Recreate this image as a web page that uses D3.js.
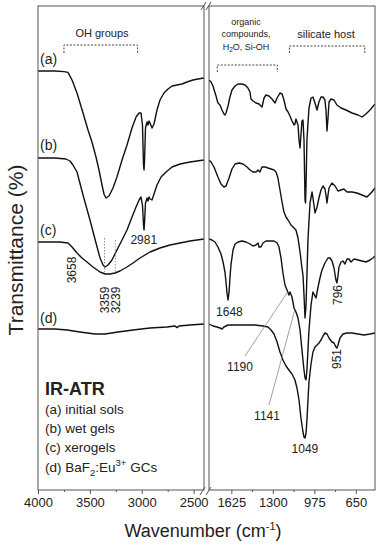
<!DOCTYPE html>
<html><head><meta charset="utf-8">
<script src="https://cdn.jsdelivr.net/npm/d3@7"></script>
<style>body{margin:0;background:#fff}svg{display:block}text{font-family:"Liberation Sans",Arial,sans-serif;fill:#222}</style>
</head><body>
<svg id="c" width="380" height="550"></svg>
<script>
// ---- data: [wavenumber (cm-1), transmittance (offset, a.u.)]
const seriesNames = ["(a)","(b)","(c)","(d)"];
const legendItems = ["(a) initial sols","(b) wet gels","(c) xerogels"];
const leftTicks = [4000,3500,3000,2500];
const leftMinor = [3750,3250,2750];
const rightTicks = [1625,1300,975,650];
const rightMinor = [1462.5,1137.5,812.5];

const aLeft = [[4000,104.75],[3836,104.75],[3749,104.6],[3711,104.4],[3672,102.5],[3624,99.25],[3566,94.25],[3518,90],[3480,87],[3441,83.25],[3412,80],[3383,76.25],[3364,74],[3345,73],[3316,73.5],[3277,75.5],[3239,78.25],[3190,82.5],[3142,86.25],[3094,90.5],[3055,93.25],[3026,94.25],[3007,94.25],[2993,91.25],[2983,81.25],[2978,80],[2973,82.5],[2964,90.5],[2949,92],[2940,91.25],[2930,92.25],[2920,91.75],[2901,90.5],[2882,91.5],[2853,95],[2824,97.5],[2786,99.25],[2747,100.25],[2708,101],[2660,101.25],[2612,101.5],[2564,102],[2506,102.5],[2458,102.75],[2400,103]];
const bLeft = [[4000,83],[3836,83],[3730,82.75],[3692,82.25],[3663,81.25],[3624,79.5],[3566,73.75],[3499,67.5],[3441,61.75],[3402,58],[3373,56.25],[3354,55.75],[3325,56.25],[3287,57.5],[3239,60],[3190,62.5],[3142,65],[3094,68.25],[3055,70.75],[3026,72.5],[3007,73.25],[2993,71.25],[2983,66.25],[2978,65],[2973,67],[2964,71.75],[2949,73],[2940,72.25],[2930,73.25],[2920,72.75],[2901,72.5],[2882,74],[2853,76.25],[2814,78.25],[2766,79.5],[2708,80.75],[2631,81.5],[2535,82],[2400,82.5]];
const cLeft = [[4000,62],[3788,62],[3711,61.75],[3672,60.75],[3624,59.25],[3576,58],[3528,57],[3470,55.75],[3402,54.5],[3354,54],[3306,54],[3258,54.25],[3210,54.75],[3142,55.75],[3084,56.75],[3017,58],[2920,59.5],[2824,60.5],[2728,61.25],[2631,61.75],[2535,62.25],[2400,62.75]];
const dLeft = [[4000,40.25],[3836,40.25],[3720,40],[3595,39.5],[3451,39],[3354,39],[3229,39.5],[3084,40],[2920,40.5],[2757,40.75],[2680,41],[2660,40.6],[2641,41],[2535,41.25],[2400,41.5]];

const aRight = [[1800,102.5],[1784,102],[1769,101],[1745,98.5],[1730,96.75],[1714,96.25],[1698,95],[1683,94],[1675,93.75],[1667,94.25],[1651,96],[1636,98.25],[1620,100],[1596,101],[1573,101.5],[1542,101.5],[1518,101.25],[1495,100.5],[1479,99.5],[1471,97.75],[1455,97.25],[1432,96.75],[1408,96.5],[1393,96],[1385,95.75],[1369,98],[1354,98.75],[1330,98.5],[1307,97.75],[1283,96.75],[1267,98],[1244,99.25],[1228,99],[1213,97.5],[1197,95.25],[1181,94.5],[1166,93.5],[1150,92.25],[1134,91.25],[1127,91.5],[1119,92.75],[1103,91.25],[1095,87.5],[1087,85.5],[1080,88.75],[1072,92.25],[1064,92.5],[1056,87.5],[1048,72.5],[1044,71.75],[1040,76.25],[1033,87.5],[1017,95.5],[1001,98],[986,98.25],[970,96.75],[954,95],[939,97],[923,98.25],[907,98.25],[892,97.5],[884,95],[876,89.75],[868,93],[860,97],[845,97.75],[821,97.5],[798,96.25],[766,95.5],[727,95],[680,94.25],[633,93.75],[602,93.25],[571,94],[539,95],[500,96.5]];
const bRight = [[1800,82.5],[1784,82],[1761,80.75],[1730,78.25],[1706,76.5],[1683,75.75],[1667,76],[1643,78],[1620,80.25],[1596,81.5],[1565,81.75],[1534,81.5],[1502,80.75],[1479,80],[1455,79.5],[1432,79.5],[1416,80],[1401,79.5],[1385,80.75],[1361,80.75],[1338,80.5],[1314,80.25],[1291,80],[1275,79.5],[1260,78],[1244,75],[1228,72],[1213,69.5],[1197,68.25],[1181,67.5],[1158,66.25],[1134,65.5],[1119,65],[1103,63],[1087,59.5],[1072,55.5],[1064,53.75],[1056,48.75],[1048,43],[1040,46.25],[1033,53.75],[1025,62.5],[1009,71.75],[993,74.5],[978,71.25],[970,69.25],[954,70.75],[939,73],[923,75],[907,76],[892,75.25],[884,73.75],[876,71.75],[868,73.75],[860,75.5],[837,76.75],[813,76],[790,74.75],[766,75],[743,75.25],[719,74.5],[680,74.5],[641,74.25],[602,73.75],[563,73.25],[531,74.25],[500,75.5]];
const cRight = [[1800,62.75],[1777,62.5],[1753,62],[1730,60.75],[1706,59],[1690,57],[1675,54.5],[1667,52],[1659,49.25],[1651,47.5],[1643,49.5],[1636,53],[1628,56.25],[1612,60],[1596,61.5],[1573,62],[1542,62.25],[1510,62],[1479,61.5],[1455,61],[1432,61.25],[1416,61.75],[1408,60.75],[1393,60.75],[1377,61.75],[1354,62.25],[1322,62.25],[1291,62.25],[1267,61.75],[1252,60.75],[1236,58],[1221,54.25],[1205,51.25],[1189,50],[1174,48.75],[1166,49.5],[1150,48.25],[1134,45.5],[1119,44.5],[1103,43],[1087,40],[1072,35],[1056,30],[1048,28],[1040,27.5],[1033,30],[1025,35],[1017,40],[1001,46.25],[986,49.5],[970,48.5],[962,48],[946,50.75],[931,53],[915,55],[892,56.75],[868,58],[852,58],[837,57.25],[821,55.5],[806,52.5],[798,51.75],[790,53.5],[782,55.75],[766,57],[751,57.25],[735,56.5],[719,57.75],[704,57.75],[688,57],[664,57.75],[633,57.5],[602,57.25],[571,57],[539,57.5],[516,58],[500,58.5]];
const dRight = [[1800,41.5],[1769,41],[1737,40.75],[1714,40.5],[1698,40.25],[1683,40.75],[1651,41.25],[1596,41.25],[1518,41.25],[1440,41.25],[1377,41],[1338,40.75],[1314,40],[1291,39],[1267,37],[1244,34.5],[1221,32.5],[1197,31],[1174,30],[1150,29],[1127,27.5],[1111,25.5],[1095,22.5],[1080,18],[1064,14.5],[1056,13.25],[1048,13],[1040,14.25],[1033,17.5],[1025,22.5],[1017,27],[1001,31.5],[986,34.5],[970,35.75],[954,36.25],[939,36.75],[923,37.5],[907,38.5],[892,39.25],[876,39],[860,38],[837,37],[821,36.75],[806,35.75],[798,35.5],[790,36.25],[774,38],[751,39],[719,39.25],[680,39.25],[633,39],[586,38.75],[539,39],[500,39.25]];

// ---- layout
const svg = d3.select("#c");
const plotTop = 6, plotBottom = 490;
const xL = d3.scaleLinear().domain([4000,2400]).range([38,204]);
const xR = d3.scaleLinear().domain([1800,500]).range([209,375]);
const y = d3.scaleLinear().domain([0,121]).range([plotBottom,plotTop]);

const defs = svg.append("defs");
defs.append("clipPath").attr("id","clipL").append("rect").attr("x",38).attr("y",plotTop).attr("width",166).attr("height",plotBottom-plotTop);
defs.append("clipPath").attr("id","clipR").append("rect").attr("x",209).attr("y",plotTop).attr("width",166).attr("height",plotBottom-plotTop);

function drawCurves(data, x, clip){
  const line = d3.line().x(d=>x(d[0])).y(d=>y(d[1])).curve(d3.curveLinear);
  svg.append("g").attr("clip-path","url(#"+clip+")")
    .selectAll("path").data(data).join("path")
    .attr("d", line).attr("fill","none").attr("stroke","#111").attr("stroke-width",1.4).attr("stroke-linejoin","round");
}
drawCurves([aLeft,bLeft,cLeft,dLeft], xL, "clipL");
drawCurves([aRight,bRight,cRight,dRight], xR, "clipR");

// frames
[[38,204],[209,375]].forEach(([a,b])=>{
  svg.append("rect").attr("x",a).attr("y",plotTop).attr("width",b-a).attr("height",plotBottom-plotTop)
    .attr("fill","none").attr("stroke","#555").attr("stroke-width",1);
});
// break marks
const brk = svg.append("g").attr("stroke","#555").attr("stroke-width",1);
[[200,495,205,487],[206,495,211,487],[201,10,206,2],[206,10,211,2]].forEach(s=>{
  brk.append("line").attr("x1",s[0]).attr("y1",s[1]).attr("x2",s[2]).attr("y2",s[3]);
});

// axes
function axis(x, ticks, minor){
  const g = svg.append("g").attr("transform","translate(0,"+plotBottom+")");
  g.call(d3.axisBottom(x).tickValues(ticks).tickSize(4).tickPadding(4).tickFormat(d3.format("d")));
  g.select(".domain").remove();
  g.selectAll("line").attr("stroke","#555");
  g.selectAll("text").attr("font-size",13).attr("fill","#222").attr("font-family",'"Liberation Sans",Arial,sans-serif');
  const m = svg.append("g").attr("transform","translate(0,"+plotBottom+")");
  m.call(d3.axisBottom(x).tickValues(minor).tickSize(2).tickFormat(""));
  m.select(".domain").remove();
  m.selectAll("line").attr("stroke","#555");
}
axis(xL, leftTicks, leftMinor);
axis(xR, rightTicks, rightMinor);

// axis titles
const xt = svg.append("text").attr("x",203).attr("y",537).attr("text-anchor","middle").attr("font-size",18);
xt.append("tspan").text("Wavenumber (cm");
xt.append("tspan").attr("font-size",11).attr("dy",-7).text("-1");
xt.append("tspan").attr("dy",7).text(")");
svg.append("text").attr("transform","translate(15,250) rotate(-90)").attr("text-anchor","middle")
  .attr("dominant-baseline","central").attr("font-size",21).text("Transmittance (%)");

// series labels
const labelY = [63.5,150,235,323];
seriesNames.forEach((s,i)=>svg.append("text").attr("x",40).attr("y",labelY[i]).attr("font-size",14).text(s));

// legend block
svg.append("text").attr("x",45).attr("y",395).attr("font-size",18).attr("font-weight","bold").text("IR-ATR");
legendItems.forEach((s,i)=>svg.append("text").attr("x",45).attr("y",414+i*19).attr("font-size",13.5).text(s));
const ld = svg.append("text").attr("x",45).attr("y",472).attr("font-size",13.5);
ld.append("tspan").text("(d) BaF");
ld.append("tspan").attr("font-size",9.5).attr("dy",4).text("2");
ld.append("tspan").attr("dy",-4).text(":Eu");
ld.append("tspan").attr("font-size",9.5).attr("dy",-6).text("3+");
ld.append("tspan").attr("dy",6).text(" GCs");

// region brackets
function bracket(x1,x2,yy,h){
  svg.append("path").attr("d",`M${x1},${yy+h}V${yy}H${x2}V${yy+h}`)
    .attr("fill","none").attr("stroke","#444").attr("stroke-width",1).attr("stroke-dasharray","2,1.5");
}
bracket(xL(3750),xL(3040),45,8);
bracket(xR(1735),xR(1265),65,7);
bracket(xR(1170),xR(580),46,7);
svg.append("text").attr("x",102).attr("y",37).attr("text-anchor","middle").attr("font-size",11).text("OH groups");
svg.append("text").attr("x",326).attr("y",38).attr("text-anchor","middle").attr("font-size",11).text("silicate host");
svg.append("text").attr("x",246).attr("y",25).attr("text-anchor","middle").attr("font-size",9).text("organic");
svg.append("text").attr("x",246).attr("y",37).attr("text-anchor","middle").attr("font-size",9).text("compounds,");
const h2o = svg.append("text").attr("x",246).attr("y",50).attr("text-anchor","middle").attr("font-size",9);
h2o.append("tspan").text("H");
h2o.append("tspan").attr("font-size",6.5).attr("dy",2).text("2");
h2o.append("tspan").attr("dy",-2).text("O, Si-OH");

// peak marks
const dots = svg.append("g").attr("stroke","#777").attr("stroke-width",0.8).attr("stroke-dasharray","1.5,1.5");
dots.append("line").attr("x1",xL(3359)).attr("x2",xL(3359)).attr("y1",238).attr("y2",275);
dots.append("line").attr("x1",xL(3255)).attr("x2",xL(3255)).attr("y1",240).attr("y2",273);
const lead = svg.append("g").attr("stroke","#888").attr("stroke-width",0.8);
lead.append("line").attr("x1",245).attr("y1",356).attr("x2",xR(1184)).attr("y2",292);
lead.append("line").attr("x1",269).attr("y1",405).attr("x2",xR(1128)).attr("y2",310);

function num(t,x,yy,rot){
  const e = svg.append("text").attr("font-size",12).attr("text-anchor","middle").attr("dominant-baseline","central").text(t);
  e.attr("transform",`translate(${x},${yy})`+(rot?" rotate(-90)":""));
}
num("2981",xL(2981),240,false);
num("3658",xL(3658)-1,270,true);
num("3359",xL(3359),300,true);
num("3239",xL(3255)+1,300,true);
num("1648",xR(1648)+1,312,false);
num("796",xR(796)+1,295,true);
num("951",xR(798),359,true);
num("1190",240,367,false);
num("1141",267,416,false);
num("1049",xR(1049),449,false);
</script>
</body></html>
